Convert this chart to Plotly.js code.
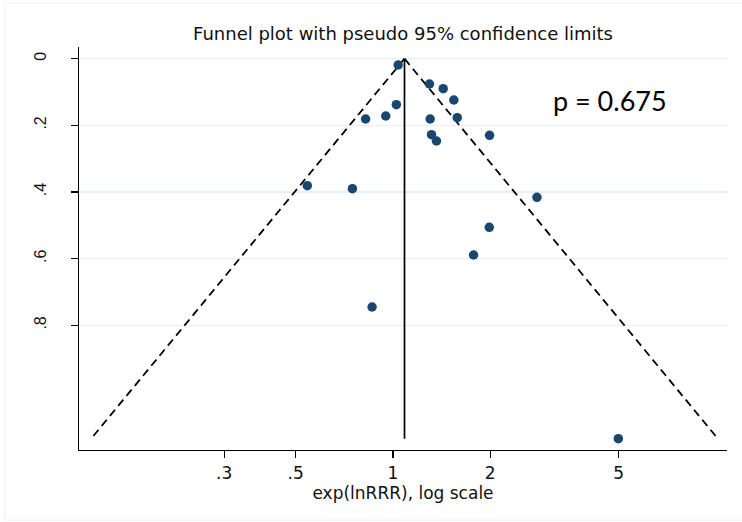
<!DOCTYPE html>
<html>
<head>
<meta charset="utf-8">
<script src="https://cdn.plot.ly/plotly-3.0.1.min.js"></script>
<style>html,body{margin:0;padding:0;background:#fff;}#chart{width:742px;height:522px;}</style>
</head>
<body>
<div id="chart"></div>
<script>
// Study estimates (relative risk ratio) and their standard errors of lnRRR
const studyRRR = [1.038, 1.298, 1.431, 1.544, 1.025, 0.950, 0.823, 1.304, 1.582, 1.317, 1.364, 1.992, 0.543, 0.749, 2.793, 1.988, 1.777, 0.862, 4.99];
const studySE  = [0.019, 0.076, 0.090, 0.124, 0.138, 0.172, 0.181, 0.181, 0.177, 0.228, 0.247, 0.230, 0.381, 0.390, 0.416, 0.506, 0.589, 0.745, 1.140];
// Pooled estimate and the SE span of the pseudo confidence funnel
const pooledRRR = 1.086;
const seSpan = [0, 1.14];
const xTickVals = [0.3, 0.5, 1, 2, 5];
const xTickText = ['.3', '.5', '1', '2', '5'];
const yTickVals = [0, 0.2, 0.4, 0.6, 0.8];
const yTickText = ['0', '.2', '.4', '.6', '.8'];
const pText = 'p = 0.675';

const lnP = Math.log(pooledRRR);
const lowerX = seSpan.map(s => Math.exp(lnP - 1.96 * s));
const upperX = seSpan.map(s => Math.exp(lnP + 1.96 * s));

const traces = [
  {x: lowerX, y: seSpan, mode: 'lines', line: {color: '#000', width: 1.8, dash: '8px,5px'}, hoverinfo: 'skip'},
  {x: upperX, y: seSpan, mode: 'lines', line: {color: '#000', width: 1.8, dash: '8px,5px'}, hoverinfo: 'skip'},
  {x: [pooledRRR, pooledRRR], y: seSpan, mode: 'lines', line: {color: '#000', width: 1.7}, hoverinfo: 'skip'},
  {x: studyRRR, y: studySE, mode: 'markers', marker: {color: '#1A476F', size: 9.5}}
];

const layout = {
  width: 742, height: 522,
  margin: {l: 79, r: 15, t: 47, b: 72},
  paper_bgcolor: '#fff', plot_bgcolor: '#fff',
  showlegend: false,
  font: {family: 'DejaVu Sans', color: '#111'},
  title: {text: 'Funnel plot with pseudo 95% confidence limits', font: {family: 'DejaVu Sans', size: 18, color: '#111'},
          x: 0.5, xref: 'paper', xanchor: 'center', y: 1 - 34 / 522, yref: 'container', yanchor: 'middle'},
  xaxis: {
    type: 'log', range: [Math.log10(0.1066), Math.log10(10.83)],
    tickvals: xTickVals, ticktext: xTickText,
    ticks: 'outside', ticklen: 7, tickwidth: 1.2, tickcolor: '#000',
    showline: true, linecolor: '#000', linewidth: 1.2,
    showgrid: false, zeroline: false,
    tickfont: {family: 'DejaVu Sans', size: 17, color: '#111'},
    title: {text: 'exp(lnRRR), log scale', font: {family: 'DejaVu Sans', size: 17, color: '#111'}, standoff: 0},
    automargin: false
  },
  yaxis: {
    range: [1.174, -0.035],
    tickvals: yTickVals, ticktext: yTickText, tickangle: -90,
    ticks: 'outside', ticklen: 7, tickwidth: 1.2, tickcolor: '#000',
    showline: true, linecolor: '#000', linewidth: 1.2,
    showgrid: true, gridcolor: '#E8EFF1', gridwidth: 1.5, zeroline: false,
    tickfont: {family: 'Liberation Sans', size: 16, color: '#111'},
    ticklabelstandoff: 18,
    automargin: false
  },
  shapes: [
    {type: 'rect', xref: 'paper', yref: 'paper', x0: -0.1142, x1: 1.03, y0: -0.1737, y1: 1.109,
     line: {color: '#EDF1F2', width: 1}, fillcolor: 'rgba(0,0,0,0)', layer: 'below'},
    {type: 'rect', xref: 'paper', yref: 'paper', x0: 0.7037, x1: 1.1, y0: 0.7965, y1: 0.9529,
     line: {width: 0}, fillcolor: '#fff', layer: 'between'}
  ],
  annotations: [
    {text: pText, xref: 'paper', yref: 'paper', x: 0.8194, y: 0.868, xanchor: 'center', yanchor: 'middle',
     showarrow: false, font: {family: 'Lato', size: 27, color: '#000'}}
  ]
};

Plotly.newPlot('chart', traces, layout, {displayModeBar: false, staticPlot: true});
</script>
</body>
</html>
